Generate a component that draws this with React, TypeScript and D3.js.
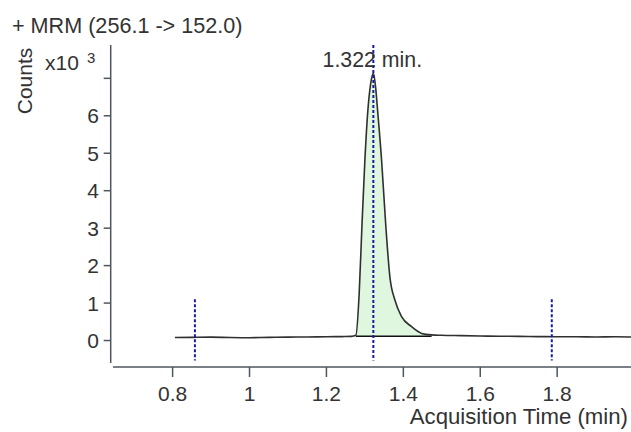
import React from "react";
import * as d3 from "d3";

// Chromatogram trace: acquisition time (min) and counts
const traceTimes = [
  0.806, 0.85, 0.9, 0.95, 1.0, 1.05, 1.1, 1.15, 1.2, 1.24, 1.265,
  1.2766, 1.2852, 1.2922, 1.3, 1.3078, 1.315, 1.322, 1.328, 1.333, 1.3434,
  1.3546, 1.365, 1.378, 1.3954, 1.4214, 1.4474, 1.4734,
  1.5, 1.55, 1.6, 1.65, 1.7, 1.75, 1.8, 1.85, 1.9, 1.95, 1.995,
];
const traceCounts = [
  80, 85, 90, 80, 75, 85, 90, 95, 100, 105, 110,
  140, 1260, 3030, 4820, 6150, 6850, 7140, 6750, 6150, 4820,
  3030, 1700, 1080, 640, 370, 190, 150,
  140, 130, 120, 115, 110, 105, 100, 100, 95, 100, 95,
];

// Integrated peak
const peakStart = 1.2766;
const peakEnd = 1.4734;
const peakBaseCounts = [115, 115];
const peakApexTime = 1.322;
const peakLabel = "1.322 min.";

// Dotted marker lines: time, top value
const markerTimes = [0.858, 1.322, 1.786];
const markerTops = [1100, 7890, 1100];
const markerBottom = -530;

const xTicks = [0.8, 1, 1.2, 1.4, 1.6, 1.8];
const xTickLabels = ["0.8", "1", "1.2", "1.4", "1.6", "1.8"];
const yTicks = [0, 1000, 2000, 3000, 4000, 5000, 6000, 7000];
const yTickLabels = ["0", "1", "2", "3", "4", "5", "6", ""];

const title = "+ MRM (256.1 -> 152.0)";
const xTitle = "Acquisition Time (min)";
const yTitle = "Counts";

export default function App() {
  const W = 631, H = 432;
  const FONT = "'Liberation Sans', Arial, sans-serif";
  const textColor = "#333";
  const axisColor = "#4f565e";

  const x = d3.scaleLinear().domain([0.645, 1.992]).range([113, 631]);
  const y = d3.scaleLinear().domain([-600, 7890]).range([363, 45]);

  const pts = traceTimes.map((t, i) => [t, traceCounts[i]] as [number, number]);
  const line = d3
    .line<[number, number]>()
    .x((d) => x(d[0]))
    .y((d) => y(d[1]))
    .curve(d3.curveMonotoneX);

  const basePts = (t: number) =>
    peakBaseCounts[0] + ((t - peakStart) / (peakEnd - peakStart)) * (peakBaseCounts[1] - peakBaseCounts[0]);
  const peakPts = pts.filter((d) => d[0] >= peakStart - 1e-9 && d[0] <= peakEnd + 1e-9);
  const area = d3
    .area<[number, number]>()
    .x((d) => x(d[0]))
    .y0((d) => y(basePts(d[0])))
    .y1((d) => y(Math.max(d[1], basePts(d[0]))))
    .curve(d3.curveMonotoneX);

  const y0 = y.range()[0];
  const y1 = y.range()[1];
  const xAxisY = 367;
  const yAxisX = 110.7;

  return (
    <svg
      width={W}
      height={H}
      style={{ position: "absolute", left: 0, top: 0, background: "#fff" }}
      fontFamily={FONT}
    >
      <rect width={W} height={H} fill="#fff" />
      {/* title */}
      <text x={12} y={33} fontSize={21.6} fill={textColor}>{title}</text>
      {/* y label */}
      <text
        transform={`translate(32,81) rotate(-90)`}
        textAnchor="middle"
        fontSize={21}
        fill={textColor}
      >
        {yTitle}
      </text>
      <text x={45} y={70} fontSize={21} fill={textColor}>x10</text>
      <text x={87} y={63} fontSize={15} fill={textColor}>3</text>

      {/* axes */}
      <line x1={yAxisX} x2={yAxisX} y1={y1} y2={y0} stroke={axisColor} strokeWidth={1.5} />
      <line x1={113} x2={W} y1={xAxisY} y2={xAxisY} stroke={axisColor} strokeWidth={1.5} />
      {yTicks.map((v, i) => (
        <g key={"yt" + i}>
          <line x1={yAxisX - 7} x2={yAxisX} y1={y(v)} y2={y(v)} stroke={axisColor} strokeWidth={1.5} />
          <text x={99} y={y(v)} dy="0.36em" textAnchor="end" fontSize={21} fill={textColor}>
            {yTickLabels[i]}
          </text>
        </g>
      ))}
      {xTicks.map((v, i) => (
        <g key={"xt" + i}>
          <line x1={x(v)} x2={x(v)} y1={xAxisY} y2={xAxisY + 10} stroke={axisColor} strokeWidth={1.5} />
          <text x={x(v)} y={401} textAnchor="middle" fontSize={21} fill={textColor}>
            {xTickLabels[i]}
          </text>
        </g>
      ))}
      <text x={628} y={424} textAnchor="end" fontSize={22.2} fill={textColor}>{xTitle}</text>

      {/* peak fill */}
      <path d={area(peakPts) || ""} fill="#dff7df" stroke="none" />
      {/* trace */}
      <path d={line(pts) || ""} fill="none" stroke="#303030" strokeWidth={1.6} />
      {/* integration baseline */}
      <line
        x1={x(peakStart)}
        x2={x(peakEnd)}
        y1={y(peakBaseCounts[0])}
        y2={y(peakBaseCounts[1])}
        stroke="#111"
        strokeWidth={1.5}
      />

      {/* dotted markers */}
      {markerTimes.map((t, i) => (
        <line
          key={"m" + i}
          x1={x(t)}
          x2={x(t)}
          y1={y(markerTops[i])}
          y2={y(markerBottom)}
          stroke="#1a1aa0"
          strokeWidth={2}
          strokeDasharray="3,2"
        />
      ))}

      <text x={x(peakApexTime) - 1} y={67} textAnchor="middle" fontSize={21.3} fill={textColor}>
        {peakLabel}
      </text>
    </svg>
  );
}
